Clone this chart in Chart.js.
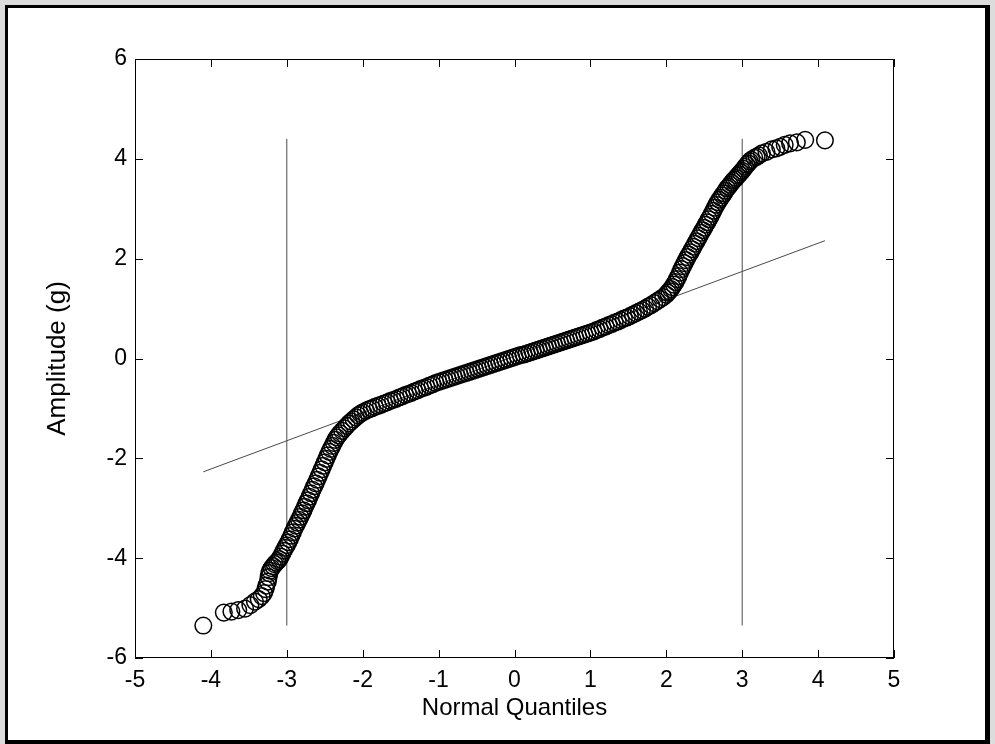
<!DOCTYPE html>
<html>
<head>
<meta charset="utf-8">
<script src="https://cdn.jsdelivr.net/npm/chart.js@4"></script>
<style>
  body { margin: 0; background: #fff; }
  #box { width: 995px; height: 744px; }
</style>
</head>
<body>
<div id="box"><canvas id="qq" width="995" height="744"></canvas></div>
<script>
// sorted amplitudes vs normal quantiles
const lowerTail = [
  [-4.10,-5.35],[-3.83,-5.09],[-3.73,-5.07],[-3.64,-5.04],[-3.55,-5.01],[-3.48,-4.94],
  [-3.42,-4.87],[-3.37,-4.82],[-3.33,-4.76],[-3.30,-4.70],[-3.28,-4.62],[-3.27,-4.55],
  [-3.25,-4.47],[-3.24,-4.38],[-3.23,-4.30],[-3.22,-4.25]
];
const lowerBend = [
  [-3.20,-4.20],[-3.18,-4.16],[-3.16,-4.12],[-3.14,-4.09],[-3.12,-4.06],[-3.10,-4.02],
  [-3.08,-3.97],[-3.06,-3.91],[-3.04,-3.85],[-3.02,-3.79],[-3.00,-3.74],[-2.98,-3.68],
  [-2.96,-3.62],[-2.94,-3.55],[-2.92,-3.48],[-2.90,-3.41],[-2.88,-3.35],[-2.86,-3.29],
  [-2.84,-3.23],[-2.82,-3.17],[-2.80,-3.10],[-2.78,-3.04],[-2.76,-2.97],[-2.74,-2.90],
  [-2.72,-2.84],[-2.70,-2.77],[-2.68,-2.70],[-2.66,-2.63],[-2.64,-2.56],[-2.62,-2.50],
  [-2.60,-2.43],[-2.58,-2.36],[-2.56,-2.29],[-2.54,-2.22],[-2.52,-2.15],[-2.50,-2.08],
  [-2.48,-2.01],[-2.46,-1.94],[-2.44,-1.87],[-2.42,-1.81],[-2.40,-1.75],[-2.38,-1.69],
  [-2.36,-1.63],[-2.34,-1.58],[-2.32,-1.54],[-2.30,-1.50],[-2.27,-1.45],[-2.24,-1.40],
  [-2.21,-1.35],[-2.18,-1.30],[-2.15,-1.26],[-2.12,-1.22],[-2.09,-1.18],[-2.06,-1.14],
  [-2.03,-1.11],[-2.00,-1.08]
];
const middle = [
  [-1.96,-1.05],[-1.92,-1.02],[-1.88,-1.00],[-1.84,-0.97],[-1.80,-0.95],[-1.76,-0.93],
  [-1.72,-0.90],[-1.68,-0.88],[-1.64,-0.85],[-1.60,-0.83],[-1.56,-0.81],[-1.52,-0.78],
  [-1.48,-0.76],[-1.44,-0.73],[-1.40,-0.71],[-1.36,-0.69],[-1.32,-0.66],[-1.28,-0.64],
  [-1.24,-0.61],[-1.20,-0.59],[-1.16,-0.57],[-1.12,-0.54],[-1.08,-0.52],[-1.04,-0.49],
  [-1.00,-0.47],[-0.96,-0.45],[-0.92,-0.43],[-0.88,-0.41],[-0.84,-0.39],[-0.80,-0.37],
  [-0.76,-0.35],[-0.72,-0.33],[-0.68,-0.31],[-0.64,-0.29],[-0.60,-0.27],[-0.56,-0.25],
  [-0.52,-0.23],[-0.48,-0.21],[-0.44,-0.19],[-0.40,-0.17],[-0.36,-0.15],[-0.32,-0.13],
  [-0.28,-0.11],[-0.24,-0.09],[-0.20,-0.07],[-0.16,-0.05],[-0.12,-0.03],[-0.08,-0.01],
  [-0.04,0.01],[0.00,0.03],[0.04,0.05],[0.08,0.07],[0.12,0.08],[0.16,0.10],
  [0.20,0.12],[0.24,0.14],[0.28,0.16],[0.32,0.18],[0.36,0.20],[0.40,0.22],
  [0.44,0.24],[0.48,0.26],[0.52,0.28],[0.56,0.30],[0.60,0.32],[0.64,0.34],
  [0.68,0.36],[0.72,0.38],[0.76,0.40],[0.80,0.42],[0.84,0.44],[0.88,0.46],
  [0.92,0.48],[0.96,0.50],[1.00,0.52],[1.04,0.54],[1.08,0.57],[1.12,0.59],
  [1.16,0.62],[1.20,0.64],[1.24,0.67],[1.28,0.69],[1.32,0.72],[1.36,0.74],
  [1.40,0.77],[1.44,0.80],[1.48,0.82],[1.52,0.85],[1.56,0.88],[1.60,0.91],
  [1.64,0.94],[1.68,0.97],[1.72,1.00],[1.76,1.04],[1.80,1.07],[1.84,1.11],
  [1.88,1.15],[1.92,1.19],[1.96,1.23]
];
const upperBend = [
  [2.00,1.28],[2.02,1.32],[2.04,1.35],[2.06,1.39],[2.08,1.43],[2.10,1.48],
  [2.12,1.53],[2.14,1.59],[2.16,1.65],[2.18,1.72],[2.20,1.79],[2.22,1.85],
  [2.24,1.91],[2.26,1.97],[2.28,2.03],[2.30,2.08],[2.32,2.13],[2.34,2.19],
  [2.36,2.24],[2.38,2.30],[2.40,2.35],[2.42,2.41],[2.44,2.46],[2.46,2.52],
  [2.48,2.57],[2.50,2.62],[2.52,2.68],[2.54,2.73],[2.56,2.79],[2.58,2.84],
  [2.60,2.90],[2.62,2.96],[2.64,3.02],[2.66,3.08],[2.68,3.13],[2.70,3.18],
  [2.72,3.22],[2.74,3.27],[2.76,3.31],[2.78,3.36],[2.80,3.41],[2.82,3.44],
  [2.84,3.48],[2.86,3.52],[2.88,3.56],[2.90,3.59],[2.92,3.62],[2.94,3.66],
  [2.96,3.69],[2.98,3.73],[3.00,3.76],[3.02,3.80],[3.04,3.84],[3.06,3.88],
  [3.08,3.91],[3.10,3.95],[3.12,3.98]
];
const upperTail = [
  [3.16,4.02],[3.19,4.04],[3.22,4.07],[3.26,4.11],[3.32,4.14],[3.39,4.19],
  [3.45,4.21],[3.50,4.24],[3.56,4.28],[3.63,4.31],[3.72,4.33],[3.83,4.38],[4.09,4.37]
];

// fitted reference line and the +/-3 markers
const refLine = [[-4.10,-2.27],[4.09,2.36]];
const leftMark = [[-3,-5.35],[-3,4.40]];
const rightMark = [[3,-5.35],[3,4.40]];

const xTicks = [-5,-4,-3,-2,-1,0,1,2,3,4,5];
const yTicks = [-6,-4,-2,0,2,4,6];

const toPts = arr => arr.map(p => ({x: p[0], y: p[1]}));
const samples = [].concat(lowerTail, lowerBend, middle, upperBend, upperTail);

const fontFam = '"Liberation Sans", Arial, Helvetica, sans-serif';

const frameAndTicks = {
  id: 'frameAndTicks',
  beforeDraw(chart) {
    const c = chart.ctx;
    c.save();
    c.fillStyle = '#dcdcdc';
    c.fillRect(0, 0, chart.width, chart.height);
    c.fillStyle = '#fff';
    c.fillRect(5, 5, 985, 739);
    c.fillStyle = '#000';
    c.fillRect(5, 5, 985, 3);
    c.fillRect(5, 5, 3, 739);
    c.fillRect(985, 5, 5, 739);
    c.fillRect(5, 740, 985, 4);
    c.restore();
  },
  afterDraw(chart) {
    const c = chart.ctx;
    const a = chart.chartArea;
    const sx = chart.scales.x, sy = chart.scales.y;
    const len = 8;
    c.save();
    c.strokeStyle = '#000';
    c.lineWidth = 1;
    c.beginPath();
    xTicks.forEach(v => {
      const px = Math.round(sx.getPixelForValue(v)) + 0.5;
      c.moveTo(px, a.bottom); c.lineTo(px, a.bottom - len);
      c.moveTo(px, a.top); c.lineTo(px, a.top + len);
    });
    yTicks.forEach(v => {
      const py = Math.round(sy.getPixelForValue(v)) + 0.5;
      c.moveTo(a.left, py); c.lineTo(a.left + len, py);
      c.moveTo(a.right, py); c.lineTo(a.right - len, py);
    });
    c.stroke();
    c.strokeRect(a.left + 0.5, a.top + 0.5, a.right - a.left - 1, a.bottom - a.top - 1);
    c.restore();
  }
};

new Chart(document.getElementById('qq'), {
  type: 'scatter',
  data: {
    datasets: [
      {
        data: toPts(samples),
        pointStyle: 'circle',
        pointRadius: 8.3,
        borderWidth: 1.5,
        borderColor: '#000',
        backgroundColor: 'rgba(0,0,0,0)',
        order: 1
      },
      {
        data: toPts(refLine), showLine: true, pointRadius: 0,
        borderColor: '#4a4a4a', borderWidth: 1, order: 2
      },
      {
        data: toPts(leftMark), showLine: true, pointRadius: 0,
        borderColor: '#4a4a4a', borderWidth: 1, order: 2
      },
      {
        data: toPts(rightMark), showLine: true, pointRadius: 0,
        borderColor: '#4a4a4a', borderWidth: 1, order: 2
      }
    ]
  },
  options: {
    responsive: false,
    animation: false,
    events: [],
    layout: { padding: { top: 59, right: 101, bottom: 0, left: 0 } },
    plugins: { legend: { display: false }, tooltip: { enabled: false } },
    scales: {
      x: {
        type: 'linear', min: -5, max: 5,
        afterFit: s => { s.height = 86; },
        afterBuildTicks: s => { s.ticks = xTicks.map(v => ({value: v})); },
        border: { display: false },
        grid: { display: false, drawTicks: false },
        ticks: { color: '#000', padding: 9, font: { family: fontFam, size: 23 } },
        title: {
          display: true, text: 'Normal Quantiles', color: '#000',
          font: { family: fontFam, size: 24 }, padding: { top: 0, bottom: 21 }
        }
      },
      y: {
        type: 'linear', min: -6, max: 6,
        afterFit: s => { s.width = 135; },
        afterBuildTicks: s => { s.ticks = yTicks.map(v => ({value: v})); },
        border: { display: false },
        grid: { display: false, drawTicks: false },
        ticks: { color: '#000', padding: 8, font: { family: fontFam, size: 23 } },
        title: {
          display: true, text: 'Amplitude (g)', color: '#000',
          font: { family: fontFam, size: 26 }, padding: { top: 42, bottom: 0 }
        }
      }
    }
  },
  plugins: [frameAndTicks]
});
</script>
</body>
</html>
